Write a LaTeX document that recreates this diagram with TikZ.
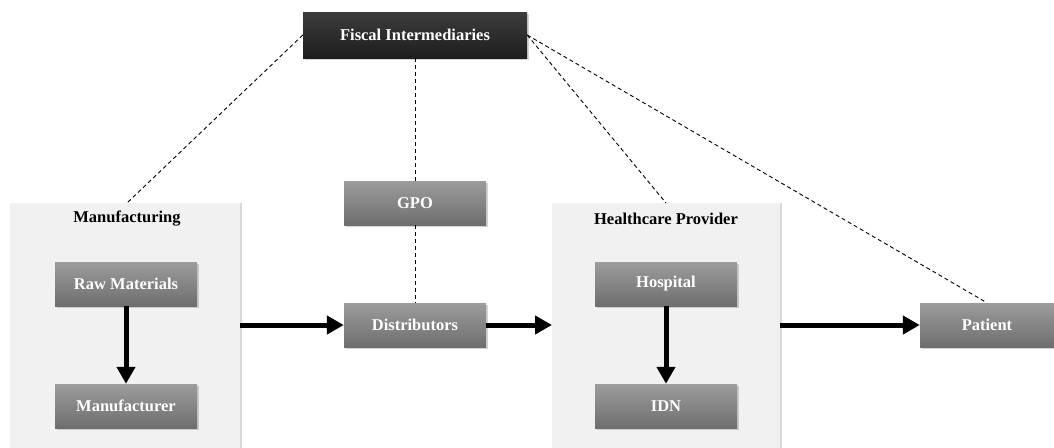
\documentclass[tikz,border=0pt]{standalone}
\usepackage{fontspec}
\setmainfont{Liberation Serif}
\usetikzlibrary{arrows.meta,shadows}
\definecolor{boxtop}{HTML}{9C9C9C}
\definecolor{boxbot}{HTML}{6E6E6E}
\definecolor{darktop}{HTML}{3C3C3C}
\definecolor{darkbot}{HTML}{1E1E1E}
\definecolor{panel}{HTML}{F1F1F1}
\begin{document}
\begin{tikzpicture}[x=1pt,y=-1pt,
  graybox/.style={minimum width=142pt,minimum height=44pt,inner sep=0pt,
    top color=boxtop,bottom color=boxbot,draw=none,text=white,
    font=\bfseries\fontsize{16.5}{18}\selectfont,
    drop shadow={shadow xshift=1.5pt,shadow yshift=-1.5pt,opacity=0.35}},
  darkbox/.style={graybox,minimum width=224pt,minimum height=46pt,top color=darktop,bottom color=darkbot},
  panelbox/.style={fill=panel,draw=none,
    drop shadow={shadow xshift=2pt,shadow yshift=0pt,opacity=0.3}},
  paneltitle/.style={font=\bfseries\fontsize{16.5}{18}\selectfont,text=black},
  flow/.style={line width=5pt,-{Triangle[length=17pt,width=18pt]}},
  link/.style={line width=0.9pt,dash pattern=on 4pt off 3pt}]
\useasboundingbox (0,0) rectangle (1054,447);
% panels
\path[panelbox] (10,203) rectangle (240,452);
\path[panelbox] (552,203) rectangle (780,452);
\coordinate (mfgtop) at (127,203);
\coordinate (mfgright) at (240,325);
\coordinate (hptop) at (666,203);
\coordinate (hpleft) at (552,325);
\coordinate (hpright) at (780,325);
\node[paneltitle] (mfgt) at (127,219) {Manufacturing};
\node[paneltitle] (hpt) at (666,219) {Healthcare Provider};
% nodes
\node[darkbox] (fi) at (415,35) {Fiscal Intermediaries};
\node[graybox] (raw) at (126,284) {Raw Materials};
\node[graybox] (man) at (126,406) {Manufacturer};
\node[graybox] (gpo) at (415,203) {GPO};
\node[graybox] (dist) at (415,325) {Distributors};
\node[graybox] (hosp) at (666,284) {Hospital};
\node[graybox] (idn) at (666,406) {IDN};
\node[graybox,minimum width=134pt] (pat) at (987,325) {Patient};
% dashed links
\draw[link] (fi.west) -- (mfgtop);
\draw[link] (fi.south) -- (gpo.north);
\draw[link] (gpo.south) -- (dist.north);
\draw[link] (fi.east) -- (hptop);
\draw[link] (fi.east) -- (pat.north);
% flows
\draw[flow] (raw.south) -- (man.north);
\draw[flow] (hosp.south) -- (idn.north);
\draw[flow] (mfgright) -- (dist.west);
\draw[flow] (dist.east) -- (hpleft);
\draw[flow] (hpright) -- (pat.west);
\end{tikzpicture}
\end{document}
